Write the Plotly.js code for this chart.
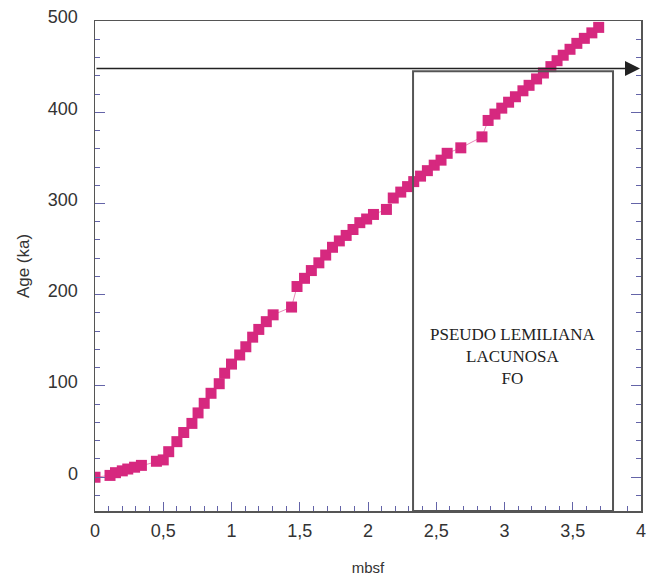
<!DOCTYPE html>
<html>
<head>
<meta charset="utf-8">
<script src="https://cdn.plot.ly/plotly-3.0.1.min.js"></script>
<style>html,body{margin:0;padding:0;background:#fff;}#chart{width:648px;height:579px;}</style>
</head>
<body>
<div id="chart"></div>
<script>
// Depth (mbsf) and age (ka)
const depthMbsf = [0.00, 0.11, 0.15, 0.20, 0.24, 0.29, 0.34, 0.45, 0.50, 0.54,
  0.60, 0.65, 0.71, 0.755, 0.80, 0.85, 0.91, 0.95, 1.00, 1.06,
  1.105, 1.155, 1.20, 1.255, 1.305, 1.44, 1.48, 1.535, 1.585, 1.64,
  1.69, 1.74, 1.79, 1.84, 1.89, 1.94, 1.99, 2.04, 2.135, 2.185,
  2.24, 2.29, 2.335, 2.385, 2.435, 2.485, 2.535, 2.58, 2.68, 2.835,
  2.88, 2.93, 2.98, 3.03, 3.08, 3.135, 3.18, 3.235, 3.285, 3.34,
  3.385, 3.43, 3.48, 3.53, 3.585, 3.64, 3.69];
const ageKa = [0, 2, 5, 7, 9, 11, 13, 17.5, 19, 28,
  39, 49, 59, 70.5, 81, 92, 102.5, 114, 124, 134,
  143, 153.5, 162, 170.5, 178, 186.5, 209, 218, 226.5, 235,
  243.5, 252, 259, 265, 271.5, 279, 283, 288, 293.5, 306,
  312.5, 318.5, 324, 330, 336, 342, 347.5, 355, 361, 373,
  391, 398, 404.5, 411, 417, 423.5, 429.5, 436.5, 443, 450,
  456.5, 462.5, 469, 475.5, 481, 487, 493];

// Event marker (PSEUDO LEMILIANA LACUNOSA FO)
const eventAge = [448];
const boxDepth = [2.33, 3.795];
const boxTopAge = [445];
const eventLabel = ["PSEUDO LEMILIANA<br>LACUNOSA<br>FO"];
const xTickVals = [0, 0.5, 1, 1.5, 2, 2.5, 3, 3.5, 4];
const yTickVals = [0, 100, 200, 300, 400, 500];
const xRange = [0, 4];
const yRange = [-37, 500];

const tickCol = '#6464a8';
const axisCol = '#555555';
const font = {family: 'Liberation Sans, Arial, sans-serif', size: 18, color: '#333'};

const trace = {
  x: depthMbsf, y: ageKa, type: 'scatter', mode: 'lines+markers',
  line: {color: '#e78ab8', width: 1},
  marker: {symbol: 'square', size: 11, color: '#d6287f'},
  hoverinfo: 'skip'
};

const layout = {
  width: 648, height: 579,
  margin: {l: 95, r: 7, t: 21, b: 68},
  paper_bgcolor: '#fff', plot_bgcolor: '#fff',
  separators: ',.',
  showlegend: false,
  font: font,
  xaxis: {
    range: xRange, tickvals: xTickVals, showgrid: false, zeroline: false,
    showline: true, linecolor: axisCol, linewidth: 1.5, mirror: true,
    ticks: 'inside', ticklen: 9, tickwidth: 1, tickcolor: tickCol,
    minor: {ticks: 'inside', dtick: 0.1, tick0: 0, ticklen: 5, tickwidth: 1, tickcolor: tickCol},
    tickfont: font, ticklabelstandoff: 3,
    title: {text: 'mbsf', font: {family: 'Liberation Sans, Arial, sans-serif', size: 15, color: '#333'}, standoff: 22}
  },
  yaxis: {
    range: yRange, tickvals: yTickVals, showgrid: false, zeroline: false,
    showline: true, linecolor: axisCol, linewidth: 1.5, mirror: 'ticks',
    ticks: 'inside', ticklen: 10, tickwidth: 1, tickcolor: tickCol,
    minor: {ticks: 'inside', dtick: 20, tick0: 0, ticklen: 5, tickwidth: 1, tickcolor: tickCol},
    tickfont: font, ticklabelstandoff: 12, ticklabelshift: -4,
    title: {text: 'Age (ka)', font: {family: 'Liberation Sans, Arial, sans-serif', size: 17, color: '#333'}, standoff: 14}
  },
  shapes: [{
    type: 'rect', xref: 'x', yref: 'y',
    x0: boxDepth[0], x1: boxDepth[1], y0: yRange[0], y1: boxTopAge[0],
    line: {color: '#555', width: 2}, fillcolor: 'rgba(0,0,0,0)', layer: 'above'
  }],
  annotations: [{
    xref: 'x', yref: 'y', axref: 'x', ayref: 'y',
    x: xRange[1], y: eventAge[0], ax: xRange[0], ay: eventAge[0],
    text: '', showarrow: true, arrowhead: 2, arrowsize: 2, arrowwidth: 1.5,
    arrowcolor: '#222', standoff: 1
  }, {
    xref: 'x', yref: 'y',
    x: (boxDepth[0] + boxDepth[1]) / 2, y: 132,
    text: eventLabel[0], showarrow: false,
    font: {family: 'Liberation Serif, Times New Roman, serif', size: 17, color: '#222'},
    align: 'center'
  }]
};

Plotly.newPlot('chart', [trace], layout, {staticPlot: true, displayModeBar: false});
</script>
</body>
</html>
